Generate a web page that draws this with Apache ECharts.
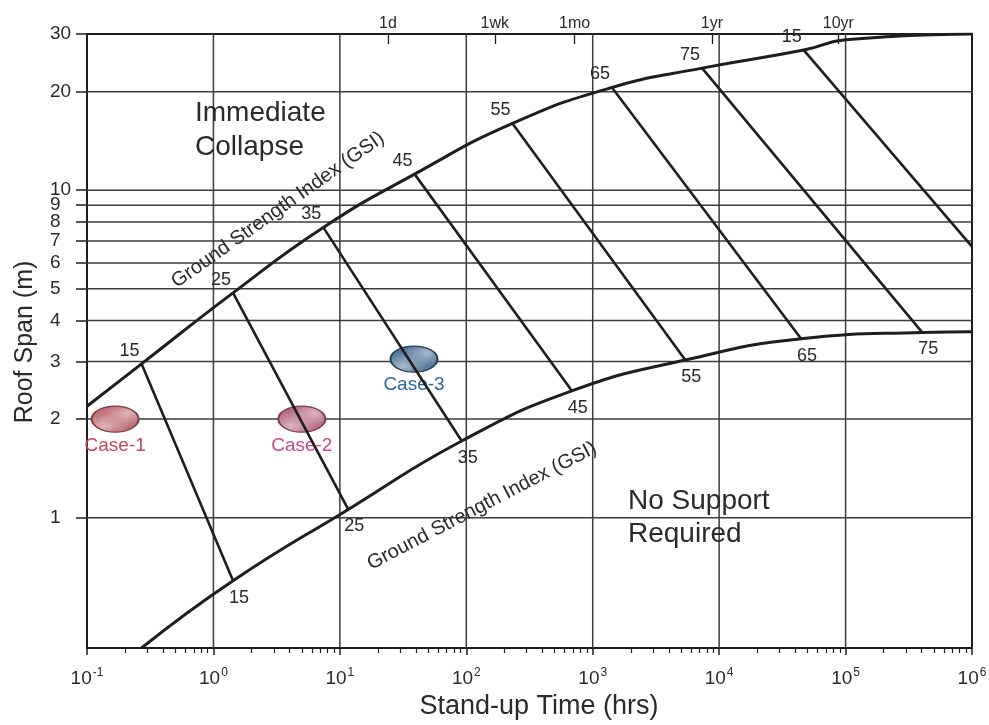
<!DOCTYPE html>
<html>
<head>
<meta charset="utf-8">
<script src="https://cdn.jsdelivr.net/npm/echarts@6/dist/echarts.min.js"></script>
<style>
html,body{margin:0;padding:0;background:#fff;}
#chart{width:989px;height:725px;}
</style>
</head>
<body>
<div id="chart"></div>
<script>
// Roof span vs. stand-up time, with Ground Strength Index (GSI) lines and three case studies

// GSI values written at each end of the GSI lines
const gsiUpperLabels = ['15', '25', '35', '45', '55', '65', '75', '15'];
const gsiLowerLabels = ['15', '25', '35', '45', '55', '65', '75'];

// GSI nodes on the upper (immediate collapse) boundary: stand-up time (hrs), roof span (m)
const upperTime = [0.27, 1.43, 7.4, 39, 232, 1420, 7330, 46700];
const upperSpan = [2.95, 4.86, 7.7, 11.2, 16.0, 20.6, 23.6, 26.8];

// GSI nodes on the lower (no support required) boundary
const lowerTime = [1.43, 11.65, 92, 684, 5400, 44500, 404000];
const lowerSpan = [0.642, 1.06, 1.715, 2.44, 3.03, 3.52, 3.68];

// the last GSI line runs out through the right border
const lastLineEndTime = 1e6;
const lastLineEndSpan = 6.73;

// boundary curves, including their ends
const upperCurveTime = [0.1, 0.27, 1.43, 7.4, 39, 232, 1420, 7330, 46700, 1e5, 1e6];
const upperCurveSpan = [2.19, 2.95, 4.86, 7.7, 11.2, 16.0, 20.6, 23.6, 26.8, 28.8, 30];
const lowerCurveTime = [0.27, 1.43, 11.65, 92, 684, 5400, 44500, 404000, 1e6];
const lowerCurveSpan = [0.4, 0.642, 1.06, 1.715, 2.44, 3.03, 3.52, 3.68, 3.7];

// case studies
const caseNames = ['Case-1', 'Case-2', 'Case-3'];
const caseTime = [0.167, 5, 38.6];
const caseSpan = [2, 2, 3.05];
const caseColors = ['#b45a63', '#ad5a76', '#3a6488'];
const caseBorders = ['#7e3a42', '#7e3a55', '#1d3f5e'];
const caseLabelColors = ['#c2475a', '#c44c92', '#2b679a'];

// axes
const X_MIN = 0.1, X_MAX = 1e6, Y_MIN = 0.4, Y_MAX = 30;
const xTickValues = [0.1, 1, 10, 100, 1e3, 1e4, 1e5, 1e6];
const xGridValues = [1, 10, 100, 1e3, 1e4, 1e5];
const yTickValues = [1, 2, 3, 4, 5, 6, 7, 8, 9, 10, 20, 30];
const yGridValues = [1, 2, 3, 4, 5, 6, 7, 8, 9, 10, 20];
const topTickValues = [24, 168, 720, 8760, 87600];
const topTickLabels = ['1d', '1wk', '1mo', '1yr', '10yr'];

// minor ticks 2..9 within every decade of the time axis
const xMinorTicks = [];
for (let e = -1; e < 6; e++) {
  for (let k = 2; k <= 9; k++) xMinorTicks.push(Number((k * Math.pow(10, e)).toPrecision(3)));
}

const FONT = '"Liberation Sans", Arial, Helvetica, sans-serif';
const INK = '#1e1e1e';
const TEXT = '#2a2a2a';

// diagonal white hatching used to fill the case ellipses
function hatchPattern(base) {
  const s = 5;
  const c = document.createElement('canvas');
  c.width = s; c.height = s;
  const g = c.getContext('2d');
  g.fillStyle = base;
  g.fillRect(0, 0, s, s);
  g.strokeStyle = 'rgba(255,255,255,0.6)';
  g.lineWidth = 1.1;
  g.beginPath();
  g.moveTo(-1, s + 1); g.lineTo(s + 1, -1);
  g.moveTo(-1, 1); g.lineTo(1, -1);
  g.moveTo(s - 1, s + 1); g.lineTo(s + 1, s - 1);
  g.stroke();
  return c;
}

const chart = echarts.init(document.getElementById('chart'), null, { renderer: 'canvas' });

const series = [];

// grid lines
yGridValues.forEach(v => series.push({
  type: 'line', silent: true, symbol: 'none', z: 1, xAxisIndex: 0, yAxisIndex: 0,
  data: [[X_MIN, v], [X_MAX, v]],
  lineStyle: { color: '#3c3c3c', width: 1.5 }
}));
xGridValues.forEach(v => series.push({
  type: 'line', silent: true, symbol: 'none', z: 1, xAxisIndex: 0, yAxisIndex: 0,
  data: [[v, Y_MIN], [v, Y_MAX]],
  lineStyle: { color: '#3c3c3c', width: 1.5 }
}));

// case studies as hatched ellipses
caseNames.forEach((name, i) => series.push({
  type: 'scatter', name: name, z: 2, xAxisIndex: 0, yAxisIndex: 0,
  symbol: 'circle', symbolSize: [47, 26],
  data: [[caseTime[i], caseSpan[i]]],
  itemStyle: {
    opacity: 1,
    color: { image: hatchPattern(caseColors[i]), repeat: 'repeat' },
    borderColor: caseBorders[i], borderWidth: 1.5
  },
  label: {
    show: true, position: 'inside', offset: [0, i === 2 ? 26 : 27],
    formatter: name, color: caseLabelColors[i], fontSize: 19, fontFamily: FONT
  }
}));

// GSI lines between the two boundaries
upperTime.forEach((t, i) => {
  const end = i < lowerTime.length ? [lowerTime[i], lowerSpan[i]] : [lastLineEndTime, lastLineEndSpan];
  series.push({
    type: 'line', silent: true, symbol: 'none', z: 3, xAxisIndex: 0, yAxisIndex: 0,
    data: [[t, upperSpan[i]], end],
    lineStyle: { color: INK, width: 2.6 }
  });
});

// boundary curves
series.push({
  type: 'line', silent: true, symbol: 'none', z: 4, smooth: 0.5,
  xAxisIndex: 0, yAxisIndex: 0,
  data: upperCurveTime.map((t, i) => [t, upperCurveSpan[i]]),
  lineStyle: { color: INK, width: 3 }
});
series.push({
  type: 'line', silent: true, symbol: 'none', z: 4, smooth: 0.5,
  xAxisIndex: 0, yAxisIndex: 0,
  data: lowerCurveTime.map((t, i) => [t, lowerCurveSpan[i]]),
  lineStyle: { color: INK, width: 3 }
});

// GSI values at the line ends
series.push({
  type: 'scatter', silent: true, z: 5, symbolSize: 0, xAxisIndex: 0, yAxisIndex: 0,
  data: upperTime.map((t, i) => [t, upperSpan[i]]),
  itemStyle: { opacity: 1 },
  label: {
    show: true, position: 'inside', offset: [-12, -13],
    formatter: p => gsiUpperLabels[p.dataIndex],
    color: TEXT, fontSize: 18, fontFamily: FONT
  }
});
series.push({
  type: 'scatter', silent: true, z: 5, symbolSize: 0, xAxisIndex: 0, yAxisIndex: 0,
  data: lowerTime.map((t, i) => [t, lowerSpan[i]]),
  itemStyle: { opacity: 1 },
  label: {
    show: true, position: 'inside', offset: [6, 17],
    formatter: p => gsiLowerLabels[p.dataIndex],
    color: TEXT, fontSize: 18, fontFamily: FONT
  }
});

const option = {
  animation: false,
  backgroundColor: '#ffffff',
  textStyle: { fontFamily: FONT },
  grid: {
    left: 87, right: 17, top: 34, bottom: 77,
    show: true, borderColor: INK, borderWidth: 2,
    outerBoundsMode: 'none'
  },
  xAxis: [
    {
      type: 'log', logBase: 10, min: X_MIN, max: X_MAX, position: 'bottom',
      axisLine: { show: false },
      splitLine: { show: false }, minorSplitLine: { show: false },
      axisTick: { show: true, length: 7, customValues: xTickValues, lineStyle: { color: INK, width: 1.5 } },
      axisLabel: {
        customValues: xTickValues, margin: 19, color: TEXT,
        formatter: v => '{b|10}{s|' + Math.round(Math.log10(v)) + '}',
        rich: {
          b: { fontSize: 19, fontFamily: FONT, color: TEXT },
          s: { fontSize: 12, fontFamily: FONT, color: TEXT, padding: [0, 0, 12, 1] }
        }
      }
    },
    {
      type: 'log', logBase: 10, min: X_MIN, max: X_MAX, position: 'bottom',
      axisLine: { show: false }, splitLine: { show: false },
      axisTick: { show: true, length: 5, customValues: xMinorTicks, lineStyle: { color: INK, width: 1.2 } },
      axisLabel: { show: false }
    },
    {
      type: 'log', logBase: 10, min: X_MIN, max: X_MAX, position: 'top',
      axisLine: { show: false }, splitLine: { show: false },
      axisTick: { show: true, inside: true, length: 10, customValues: topTickValues, lineStyle: { color: INK, width: 1.3 } },
      axisLabel: {
        customValues: topTickValues, margin: 2, color: TEXT, fontSize: 16, fontFamily: FONT,
        formatter: v => topTickLabels[topTickValues.indexOf(v)] || ''
      }
    }
  ],
  yAxis: [
    {
      type: 'log', logBase: 10, min: Y_MIN, max: Y_MAX, position: 'left',
      axisLine: { show: false },
      splitLine: { show: false }, minorSplitLine: { show: false },
      axisTick: { show: true, length: 11, customValues: yTickValues, lineStyle: { color: INK, width: 1.5 } },
      axisLabel: {
        customValues: yTickValues, align: 'left', margin: 37,
        color: TEXT, fontSize: 19, fontFamily: FONT
      }
    }
  ],
  graphic: [
    {
      type: 'text', x: 195, y: 96, z: 10, silent: true,
      style: { text: 'Immediate\nCollapse', font: '28px ' + FONT, fill: TEXT, lineHeight: 34, textAlign: 'left', textVerticalAlign: 'top' }
    },
    {
      type: 'text', x: 628, y: 485, z: 10, silent: true,
      style: { text: 'No Support\nRequired', font: '28px ' + FONT, fill: TEXT, lineHeight: 33, textAlign: 'left', textVerticalAlign: 'top' }
    },
    {
      type: 'text', x: 278, y: 210, rotation: 0.616, z: 10, silent: true,
      style: { text: 'Ground Strength Index (GSI)', font: '20px ' + FONT, fill: TEXT, textAlign: 'center', textVerticalAlign: 'middle' }
    },
    {
      type: 'text', x: 482, y: 506, rotation: 0.48, z: 10, silent: true,
      style: { text: 'Ground Strength Index (GSI)', font: '20px ' + FONT, fill: TEXT, textAlign: 'center', textVerticalAlign: 'middle' }
    },
    {
      type: 'text', x: 539, y: 707, z: 10, silent: true,
      style: { text: 'Stand-up Time (hrs)', font: '27px ' + FONT, fill: TEXT, textAlign: 'center', textVerticalAlign: 'middle' }
    },
    {
      type: 'text', x: 25, y: 342, rotation: Math.PI / 2, z: 10, silent: true,
      style: { text: 'Roof Span (m)', font: '25px ' + FONT, fill: TEXT, textAlign: 'center', textVerticalAlign: 'middle' }
    }
  ],
  series: series
};

chart.setOption(option);
</script>
</body>
</html>
